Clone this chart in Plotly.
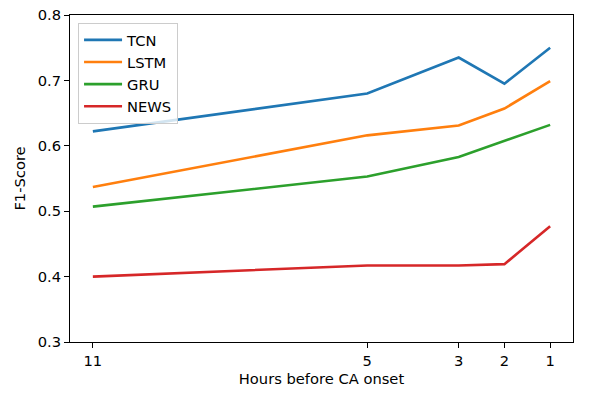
import plotly.graph_objects as go

hours = [11, 5, 3, 2, 1]
tcn = [0.622, 0.680, 0.735, 0.695, 0.750]
lstm = [0.537, 0.616, 0.631, 0.657, 0.699]
gru = [0.507, 0.553, 0.583, 0.608, 0.632]
news = [0.400, 0.417, 0.417, 0.419, 0.477]
series = [("TCN", tcn, "#1f77b4"), ("LSTM", lstm, "#ff7f0e"),
          ("GRU", gru, "#2ca02c"), ("NEWS", news, "#d62728")]
x_ticks = [11, 5, 3, 2, 1]
y_ticks = [0.3, 0.4, 0.5, 0.6, 0.7, 0.8]

fig = go.Figure()
for name, vals, col in series:
    fig.add_trace(go.Scatter(x=hours, y=vals, mode="lines", name=name,
                             line=dict(color=col, width=2.6)))

FS = 14.7
font = dict(family="DejaVu Sans", size=FS, color="black")
# page body has an 8px default margin, so the figure is drawn offset by 8px
fig.update_layout(
    width=581, height=388,
    margin=dict(l=62, r=16, t=7, b=54),
    paper_bgcolor="white", plot_bgcolor="white",
    font=font,
    showlegend=True,
    legend=dict(x=0.016, y=0.976, xanchor="left", yanchor="top",
                bgcolor="rgba(255,255,255,0.8)", bordercolor="#cccccc", borderwidth=1,
                font=dict(family="DejaVu Sans", size=FS, color="black"), tracegroupgap=0,
                itemwidth=38),
    xaxis=dict(range=[11.5, 0.5], tickvals=x_ticks, ticktext=[str(t) for t in x_ticks],
               showgrid=False, zeroline=False, showline=True, linecolor="black",
               linewidth=1, mirror=True, ticks="outside", ticklen=5, tickcolor="black",
               tickfont=dict(size=FS), automargin=False, ticklabeloverflow="allow",
               title=dict(text="Hours before CA onset", standoff=6, font=dict(size=FS))),
    yaxis=dict(range=[0.3, 0.8], tickvals=y_ticks, ticktext=[f"{t:.1f}" for t in y_ticks],
               showgrid=False, zeroline=False, showline=True, linecolor="black",
               linewidth=1, mirror=True, ticks="outside", ticklen=5, tickcolor="black",
               tickfont=dict(size=FS), automargin=False, ticklabeloverflow="allow",
               title=dict(text="F1-Score", standoff=8, font=dict(size=FS))),
)
fig.write_html("out.html")
